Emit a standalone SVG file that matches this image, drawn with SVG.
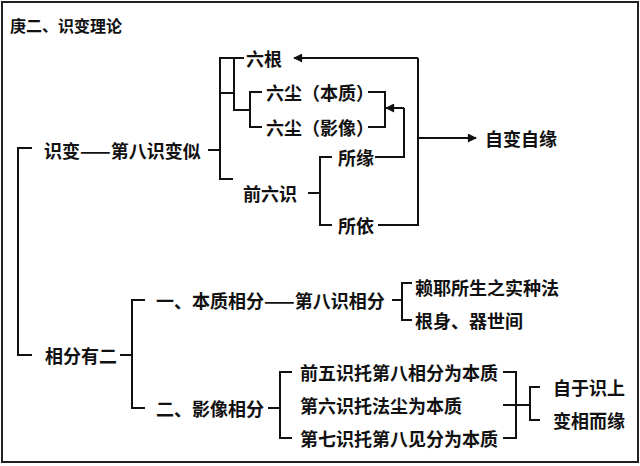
<svg xmlns="http://www.w3.org/2000/svg" width="640" height="466" viewBox="0 0 640 466">
<defs>
<style>
text{font-family:"Noto Sans CJK SC","Noto Sans",sans-serif;font-weight:bold;font-size:18px;fill:#111;dominant-baseline:central}
.t{font-size:16px}
.c line,.c polyline{stroke:#111;stroke-width:2;fill:none}
</style>
<marker id="a" viewBox="0 0 10 10" refX="9" refY="5" markerWidth="10" markerHeight="9" markerUnits="userSpaceOnUse" orient="auto"><path d="M0,0L10,5L0,10z" fill="#111"/></marker>
</defs>
<rect x="2" y="2" width="636" height="460" fill="#fff" stroke="#222" stroke-width="2"/>
<text class="t" x="10" y="25">庚二、识变理论</text>
<g class="c">
<polyline points="32,148 18,148 18,355 32,355"/>
<line x1="208" y1="150" x2="220" y2="150"/>
<polyline points="234,58 220,58 220,179 233,179"/>
<polyline points="244,58 234,58 234,110 250,110"/>
<line x1="220" y1="93" x2="234" y2="93"/>
<polyline points="262,92 250,92 250,127 262,127"/>
<polyline points="418,58 418,225 378,225"/>
<line x1="418" y1="58" x2="294" y2="58" marker-end="url(#a)"/>
<line x1="418" y1="138" x2="476" y2="138" marker-end="url(#a)"/>
<polyline points="368,92 385,92 385,127 368,127"/>
<polyline points="375,157 404,157 404,108"/>
<line x1="404" y1="108" x2="386" y2="108" marker-end="url(#a)"/>
<line x1="308" y1="193" x2="320" y2="193"/>
<polyline points="332,157 320,157 320,225 332,225"/>
<line x1="120" y1="355" x2="132" y2="355"/>
<polyline points="145,300 132,300 132,408 145,408"/>
<line x1="392" y1="300" x2="402" y2="300"/>
<polyline points="412,283 402,283 402,320 412,320"/>
<line x1="268" y1="408" x2="280" y2="408"/>
<polyline points="292,372 280,372 280,438 292,438"/>
<polyline points="503,372 516,372 516,438 503,438"/>
<line x1="503" y1="405" x2="530" y2="405"/>
<polyline points="540,387 530,387 530,420 540,420"/>
</g>
<g id="n1"><text x="44" y="150">识变——第八识变似</text></g>
<g id="n2"><text x="246" y="58">六根</text></g>
<g id="n3"><text x="266" y="92">六尘（本质）</text></g>
<g id="n4"><text x="266" y="127">六尘（影像）</text></g>
<g id="n5"><text x="243" y="193">前六识</text></g>
<g id="n6"><text x="338" y="157">所缘</text></g>
<g id="n7"><text x="338" y="225">所依</text></g>
<g id="n8"><text x="485" y="138">自变自缘</text></g>
<g id="n9"><text x="45" y="355">相分有二</text></g>
<g id="n10"><text x="156" y="300">一、本质相分——第八识相分</text></g>
<g id="n11"><text x="415" y="287">赖耶所生之实种法</text></g>
<g id="n12"><text x="415" y="320">根身、器世间</text></g>
<g id="n13"><text x="156" y="408">二、影像相分</text></g>
<g id="n14"><text x="300" y="372">前五识托第八相分为本质</text></g>
<g id="n15"><text x="300" y="405">第六识托法尘为本质</text></g>
<g id="n16"><text x="300" y="438">第七识托第八见分为本质</text></g>
<g id="n17"><text x="553" y="387">自于识上</text></g>
<g id="n18"><text x="553" y="420">变相而缘</text></g>
</svg>
